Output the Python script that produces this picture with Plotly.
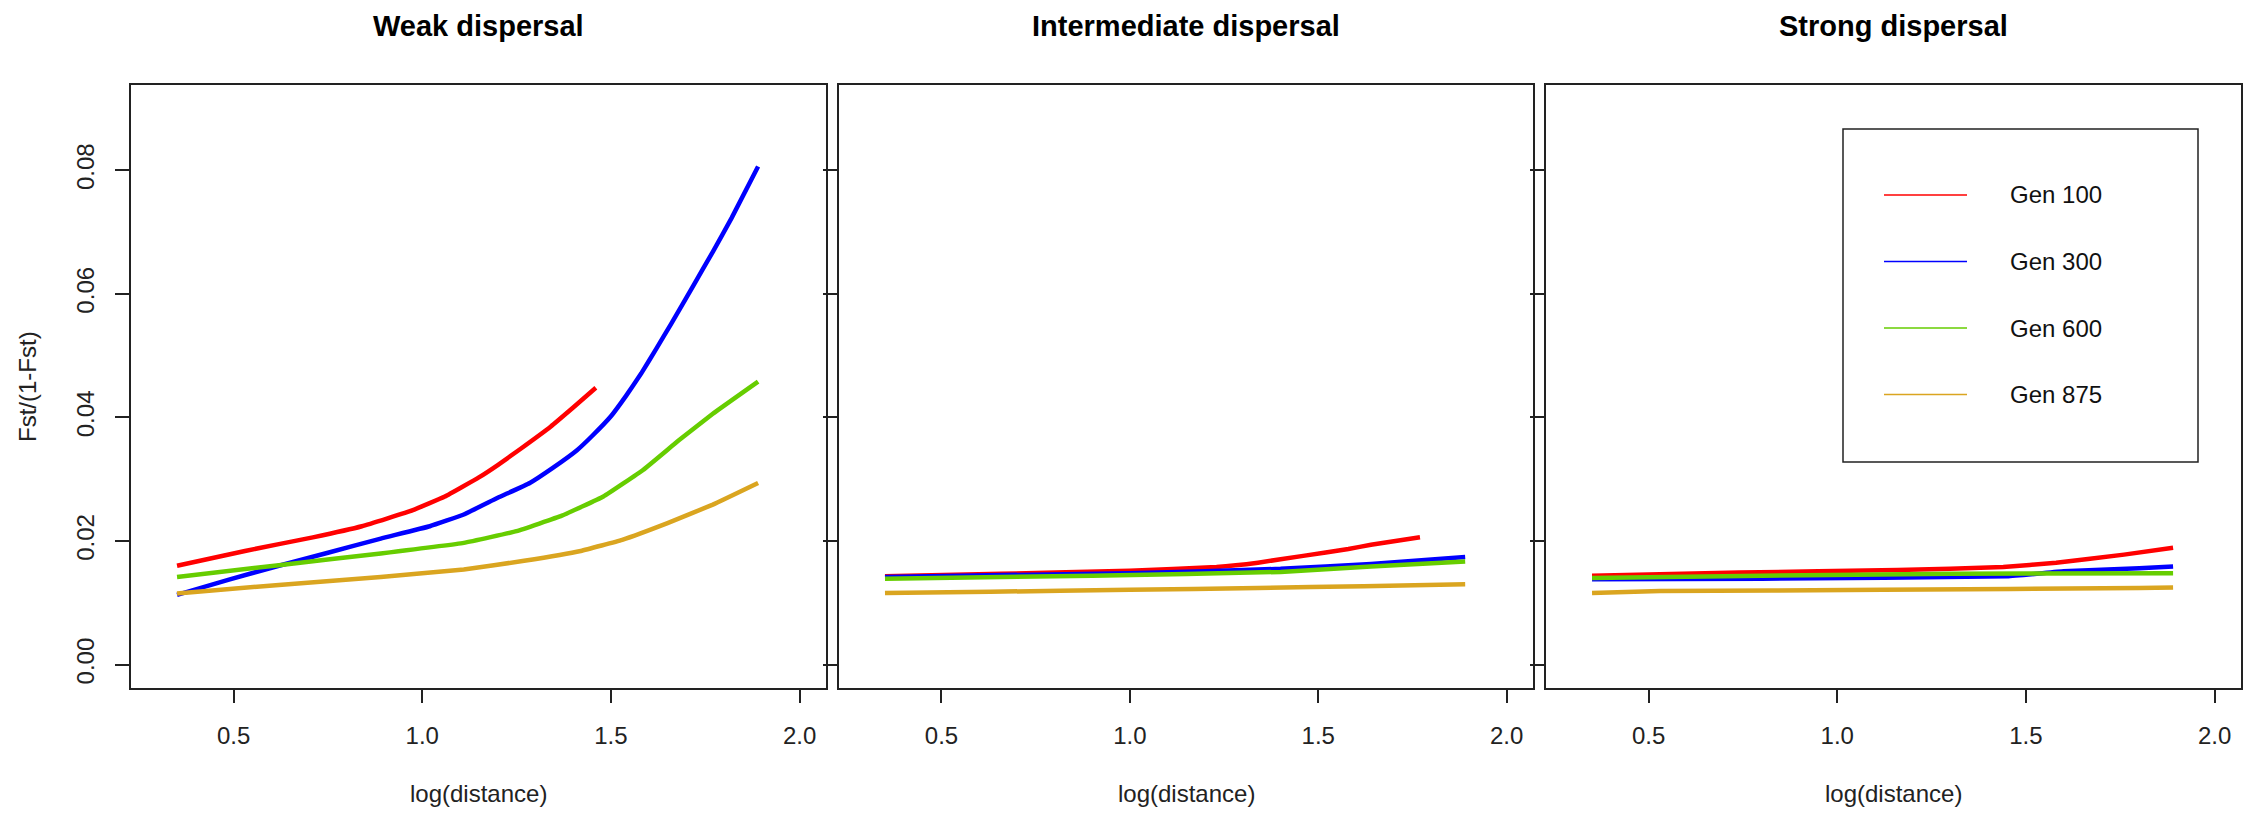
import plotly.graph_objects as go

W, H = 2248, 815

# ---------------- data ----------------
panel_titles = ["Weak dispersal", "Intermediate dispersal", "Strong dispersal"]
series_names = ["Gen 100", "Gen 300", "Gen 600", "Gen 875"]
series_colors = ["#FF0000", "#0000FF", "#66CD00", "#DAA520"]

x_ticks = [0.5, 1.0, 1.5, 2.0]
x_tick_labels = ["0.5", "1.0", "1.5", "2.0"]
y_ticks = [0.00, 0.02, 0.04, 0.06, 0.08]
y_tick_labels = ["0.00", "0.02", "0.04", "0.06", "0.08"]

# Weak dispersal
weak_x_100 = [0.35, 0.53, 0.71, 0.84, 0.975, 1.06, 1.15, 1.2, 1.26, 1.34, 1.40, 1.46]
weak_y_100 = [0.0160, 0.0184, 0.0206, 0.0224, 0.0250, 0.0272, 0.0303, 0.0323, 0.0349, 0.0385, 0.0416, 0.0448]
weak_x_300 = [0.35, 0.49, 0.62, 0.75, 0.89, 1.02, 1.11, 1.2, 1.285, 1.345, 1.41, 1.45, 1.5,
              1.54, 1.58, 1.62, 1.66, 1.72, 1.77, 1.82, 1.89]
weak_y_300 = [0.0113, 0.0138, 0.0160, 0.0181, 0.0204, 0.0224, 0.0243, 0.0270, 0.0294, 0.0318, 0.0347,
              0.0370, 0.0402, 0.0435, 0.0471, 0.0511, 0.0552, 0.0615, 0.0668, 0.0723, 0.0806]
weak_x_600 = [0.35, 0.62, 0.89, 1.11, 1.25, 1.37, 1.48, 1.585, 1.68, 1.77, 1.89]
weak_y_600 = [0.0142, 0.0161, 0.0180, 0.0197, 0.0216, 0.0241, 0.0272, 0.0315, 0.0363, 0.0406, 0.0458]
weak_x_875 = [0.35, 0.62, 0.89, 1.11, 1.27, 1.42, 1.53, 1.65, 1.77, 1.89]
weak_y_875 = [0.0115, 0.0129, 0.0142, 0.0154, 0.0168, 0.0184, 0.0202, 0.0229, 0.0259, 0.0294]

# Intermediate dispersal
inter_x_100 = [0.35, 0.66, 1.0, 1.23, 1.34, 1.46, 1.58, 1.64, 1.77]
inter_y_100 = [0.0143, 0.0147, 0.0152, 0.0158, 0.0165, 0.0176, 0.0187, 0.0194, 0.0206]
inter_x_300 = [0.35, 1.0, 1.4, 1.64, 1.89]
inter_y_300 = [0.0142, 0.0148, 0.0155, 0.0163, 0.0174]
inter_x_600 = [0.35, 0.9, 1.4, 1.64, 1.89]
inter_y_600 = [0.0139, 0.0144, 0.0150, 0.0159, 0.0167]
inter_x_875 = [0.35, 0.63, 1.0, 1.34, 1.62, 1.89]
inter_y_875 = [0.0116, 0.0118, 0.0121, 0.0124, 0.0127, 0.0130]

# Strong dispersal
strong_x_100 = [0.35, 0.74, 1.16, 1.44, 1.58, 1.76, 1.89]
strong_y_100 = [0.0144, 0.0149, 0.0153, 0.0158, 0.0165, 0.0178, 0.0189]
strong_x_300 = [0.35, 0.8, 1.45, 1.6, 1.8, 1.89]
strong_y_300 = [0.0138, 0.0139, 0.0143, 0.0151, 0.0156, 0.0159]
strong_x_600 = [0.35, 0.8, 1.3, 1.89]
strong_y_600 = [0.0140, 0.0144, 0.0147, 0.0148]
strong_x_875 = [0.35, 0.53, 1.12, 1.8, 1.89]
strong_y_875 = [0.0116, 0.0119, 0.0121, 0.0124, 0.0125]

panels = [
    [(weak_x_100, weak_y_100), (weak_x_300, weak_y_300), (weak_x_600, weak_y_600), (weak_x_875, weak_y_875)],
    [(inter_x_100, inter_y_100), (inter_x_300, inter_y_300), (inter_x_600, inter_y_600), (inter_x_875, inter_y_875)],
    [(strong_x_100, strong_y_100), (strong_x_300, strong_y_300), (strong_x_600, strong_y_600), (strong_x_875, strong_y_875)],
]

# ---------------- layout geometry (pixels) ----------------
FONT = "Liberation Sans, Arial, sans-serif"
panel_px = [(131, 826), (839, 1533), (1546, 2241)]
top_px, bot_px = 85, 687.5
x_range = [0.228, 2.07]
y_range = [-0.0037, 0.0938]

def px(x):
    return x / W

def py(y):
    return 1 - y / H

fig = go.Figure()

for i, (series, (l, r)) in enumerate(zip(panels, panel_px)):
    ax = "" if i == 0 else str(i + 1)
    for (xs, ys), name, col in zip(series, series_names, series_colors):
        fig.add_trace(go.Scatter(
            x=xs, y=ys, mode="lines", name=name, showlegend=False,
            line=dict(color=col, width=4.5, shape="spline", smoothing=0.3),
            xaxis="x" + ax, yaxis="y" + ax,
        ))
    common = dict(showline=True, mirror=True, linecolor="#222", linewidth=1.5,
                  showgrid=False, zeroline=False, ticks="outside", ticklen=14,
                  tickwidth=1.5, tickcolor="#222",
                  tickfont=dict(family=FONT, size=24, color="#222"))
    fig.layout["xaxis" + ax] = dict(
        common, domain=[px(l), px(r)], range=x_range, anchor="y" + ax,
        tickvals=x_ticks, ticktext=x_tick_labels, ticklabelstandoff=12)
    fig.layout["yaxis" + ax] = dict(
        common, domain=[py(bot_px), py(top_px)], range=y_range, anchor="x" + ax,
        tickvals=y_ticks, ticktext=y_tick_labels, showticklabels=(i == 0),
        tickangle=-90, ticklabelstandoff=12)

annotations = []
for title, (l, r) in zip(panel_titles, panel_px):
    annotations.append(dict(text="<b>" + title + "</b>", x=px((l + r) / 2), y=py(26),
                            xref="paper", yref="paper", showarrow=False,
                            xanchor="center", yanchor="middle",
                            font=dict(family=FONT, size=29, color="#000")))
    annotations.append(dict(text="log(distance)", x=px((l + r) / 2), y=py(793),
                            xref="paper", yref="paper", showarrow=False,
                            xanchor="center", yanchor="middle",
                            font=dict(family=FONT, size=24, color="#222")))
annotations.append(dict(text="Fst/(1-Fst)", x=px(28), y=py(387), textangle=-90,
                        xref="paper", yref="paper", showarrow=False,
                        xanchor="center", yanchor="middle",
                        font=dict(family=FONT, size=24, color="#222")))

# legend (drawn in the right panel)
shapes = [dict(type="rect", xref="paper", yref="paper",
               x0=px(1843), x1=px(2198), y0=py(462), y1=py(129),
               line=dict(color="#222", width=1.5), fillcolor="rgba(0,0,0,0)")]
row_y = [195, 261.5, 328, 394.5]
for name, col, ry in zip(series_names, series_colors, row_y):
    shapes.append(dict(type="line", xref="paper", yref="paper",
                       x0=px(1884), x1=px(1967), y0=py(ry), y1=py(ry),
                       line=dict(color=col, width=1.5)))
    annotations.append(dict(text=name, x=px(2008), y=py(ry), xref="paper", yref="paper",
                            showarrow=False, xanchor="left", yanchor="middle",
                            font=dict(family=FONT, size=24, color="#111")))

fig.update_layout(
    width=W, height=H, margin=dict(l=0, r=0, t=0, b=0),
    paper_bgcolor="white", plot_bgcolor="white",
    annotations=annotations, shapes=shapes, showlegend=False,
)

fig.write_html("out.html", config={"displayModeBar": False},
               post_script="document.body.style.margin='0';document.body.style.overflow='hidden';")
